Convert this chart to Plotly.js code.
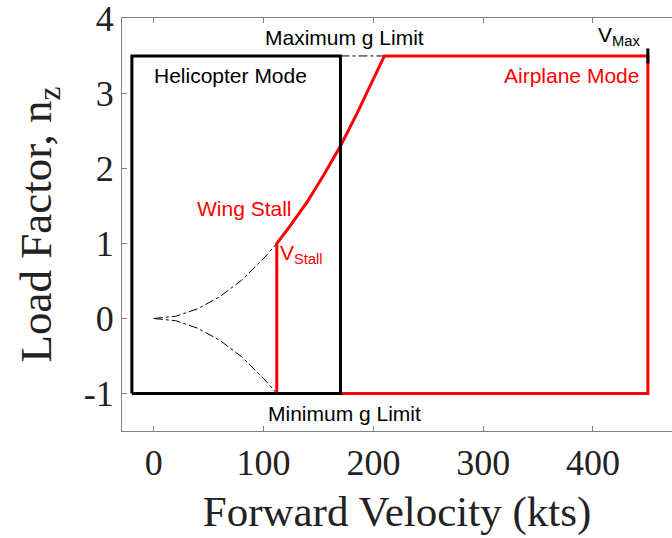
<!DOCTYPE html>
<html>
<head>
<meta charset="utf-8">
<script src="https://cdn.plot.ly/plotly-3.0.1.min.js"></script>
<style>html,body{margin:0;padding:0;background:#fff;}#chart{width:672px;height:538px;}</style>
</head>
<body>
<div id="chart"></div>
<script>
// Values
const vStall = 112;        // kts
const vMax = 450;          // kts
const heliVmin = -20;      // helicopter box edges (kts)
const heliVmax = 170;
const nMax = 3.5;
const nMin = -1;

// wing-stall boundary (read points)
const stallV = [112, 125, 140, 155, 170, 185, 200, 210];
const stallN = [1.0, 1.25, 1.56, 1.92, 2.30, 2.73, 3.19, 3.5];

// low-speed dash-dot stall curves (read points)
const lowV = [0, 20, 40, 60, 80, 100, 112];
const lowNpos = [0, 0.03, 0.13, 0.29, 0.51, 0.80, 1.0];
const lowNneg = [0, -0.03, -0.13, -0.29, -0.51, -0.80, -1.0];

// V_max marker tick
const vMaxTickN = [3.4, 3.6];

const xTicks = [0, 100, 200, 300, 400];
const yTicks = [-1, 0, 1, 2, 3, 4];

const airX = [vStall, vStall].concat(stallV.slice(1), [vMax, vMax, vStall]);
const airY = [nMin, 1].concat(stallN.slice(1), [nMax, nMin, nMin]);

const traces = [
  {x: lowV, y: lowNpos, mode: 'lines', line: {color: 'black', width: 1, dash: 'dashdot'}},
  {x: lowV, y: lowNneg, mode: 'lines', line: {color: 'black', width: 1, dash: 'dashdot'}},
  {x: [heliVmax, stallV[stallV.length - 1]], y: [nMax, nMax], mode: 'lines', line: {color: 'black', width: 1, dash: 'dashdot'}},
  {x: airX, y: airY, mode: 'lines', line: {color: '#ff0000', width: 3}},
  {x: [heliVmin, heliVmax, heliVmax, heliVmin, heliVmin], y: [nMin, nMin, nMax, nMax, nMin], mode: 'lines', line: {color: 'black', width: 3}},
  {x: [vMax, vMax], y: vMaxTickN, mode: 'lines', line: {color: 'black', width: 3}}
];

const af = {family: 'Liberation Sans, Arial, sans-serif', size: 21};
const serif = 'Liberation Serif, Times New Roman, serif';
const layout = {
  width: 672, height: 538,
  margin: {l: 122, r: 0, t: 18, b: 107},
  showlegend: false,
  plot_bgcolor: 'white', paper_bgcolor: 'white',
  xaxis: {
    range: [-29, 472], tickvals: xTicks, ticktext: xTicks.map(String),
    showgrid: false, zeroline: false, showline: true, linecolor: '#808080', linewidth: 1,
    mirror: 'ticks', ticks: 'inside', ticklen: 5, tickcolor: '#808080',
    tickfont: {family: serif, size: 36, color: '#222'},
    title: {text: 'Forward Velocity (kts)', font: {family: serif, size: 43, color: '#222'}, standoff: 13}
  },
  yaxis: {
    range: [-1.5, 4.006], tickvals: yTicks, ticktext: yTicks.map(String),
    ticklabeloverflow: 'allow',
    showgrid: false, zeroline: false, showline: true, linecolor: '#808080', linewidth: 1,
    mirror: false, ticks: 'inside', ticklen: 5, tickcolor: '#808080',
    tickfont: {family: serif, size: 36, color: '#222'},
    title: {text: 'Load Factor, n<sub>z</sub>', font: {family: serif, size: 45, color: '#222'}, standoff: 18}
  },
  annotations: [
    {x: 174, y: 3.74, xref: 'x', yref: 'y', text: 'Maximum g Limit', showarrow: false, font: Object.assign({}, af, {color: 'black'})},
    {x: 174, y: -1.27, xref: 'x', yref: 'y', text: 'Minimum g Limit', showarrow: false, font: Object.assign({}, af, {color: 'black'})},
    {x: -2, y: 3.24, xref: 'x', yref: 'y', xanchor: 'left', text: 'Helicopter Mode', showarrow: false, font: Object.assign({}, af, {color: 'black'})},
    {x: 444, y: 3.24, xref: 'x', yref: 'y', xanchor: 'right', text: 'Airplane Mode', showarrow: false, font: Object.assign({}, af, {color: '#ff0000'})},
    {x: 128, y: 1.47, xref: 'x', yref: 'y', xanchor: 'right', text: 'Wing Stall', showarrow: false, font: Object.assign({}, af, {color: '#ff0000'})},
    {x: 113, y: 1.06, xref: 'x', yref: 'y', xanchor: 'left', yanchor: 'top', text: 'V<sub>Stall</sub>', showarrow: false, font: Object.assign({}, af, {color: '#ff0000'})},
    {x: 445, y: 3.57, xref: 'x', yref: 'y', xanchor: 'right', yanchor: 'bottom', text: 'V<sub>Max</sub>', showarrow: false, font: Object.assign({}, af, {color: 'black'})}
  ]
};

Plotly.newPlot('chart', traces, layout, {displayModeBar: false, staticPlot: true});
</script>
</body>
</html>
